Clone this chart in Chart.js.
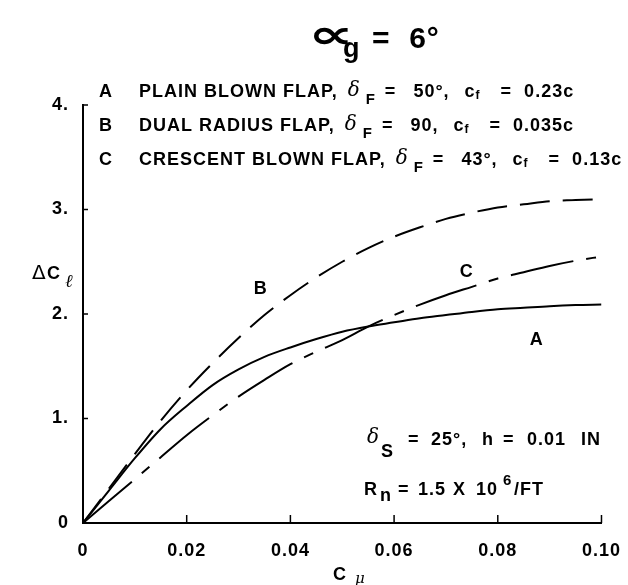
<!DOCTYPE html>
<html>
<head>
<meta charset="utf-8">
<script src="https://cdn.jsdelivr.net/npm/chart.js@4.4.0/dist/chart.umd.min.js"></script>
<style>
  html, body { margin: 0; padding: 0; background: #fff; }
  #wrap { width: 628px; height: 585px; position: relative; }
</style>
</head>
<body>
<div id="wrap"><canvas id="flapChart"></canvas></div>
<script>
const cMu = [0, 0.005, 0.01, 0.015, 0.02, 0.025, 0.03, 0.035, 0.04, 0.045, 0.05,
             0.055, 0.06, 0.065, 0.07, 0.075, 0.08, 0.085, 0.09, 0.095, 0.10];

// A - plain blown flap (solid)
const curveA = [0, 0.31, 0.62, 0.90, 1.12, 1.32, 1.47, 1.59, 1.68, 1.76, 1.83,
                1.88, 1.92, 1.96, 1.99, 2.02, 2.045, 2.06, 2.075, 2.085, 2.09];
// B - dual radius flap (long dash)
const curveB = [0, 0.33, 0.66, 0.98, 1.27, 1.53, 1.77, 1.99, 2.18, 2.35, 2.50,
                2.63, 2.74, 2.83, 2.91, 2.97, 3.02, 3.05, 3.08, 3.09, 3.10];
// C - crescent blown flap (dash-dot)
const curveC = [0, 0.21, 0.42, 0.63, 0.84, 1.03, 1.21, 1.37, 1.52, 1.64, 1.75,
                1.88, 1.99, 2.09, 2.18, 2.26, 2.34, 2.40, 2.46, 2.51, 2.55];

const xTickValues = [0, 0.02, 0.04, 0.06, 0.08, 0.10];
const yTickValues = [0, 1, 2, 3, 4];

// legend rows: key, flap name, flap angle, flap chord
const legendKeys = ['A', 'B', 'C'];
const flapNames = ['PLAIN BLOWN FLAP,', 'DUAL RADIUS FLAP,', 'CRESCENT BLOWN FLAP,'];
const flapAngles = ['50°,', '90,', '43°,'];
const flapChords = ['0.23c', '0.035c', '0.13c'];

// where the curve letters sit, in data units
const curveLabels = [
  { text: 'A', x: 0.0875, y: 1.75 },
  { text: 'B', x: 0.0343, y: 2.24 },
  { text: 'C', x: 0.0740, y: 2.40 }
];

const FAM = '"Liberation Sans", Arial, sans-serif';
const BOLD = 'bold 18px ' + FAM;
const SUB = 'bold 15px ' + FAM;
const GREEK = 'italic 20px "DejaVu Serif", serif';

function toPoints(ys) {
  return cMu.map((x, i) => ({ x: x, y: ys[i] }));
}

// draw a run of text pieces one after the other
function drawRun(ctx, x, y, parts) {
  parts.forEach(p => {
    ctx.font = p.font || BOLD;
    if (p.gap) x += p.gap;
    if (p.at) x = p.at;
    ctx.fillText(p.t, x, y + (p.dy || 0));
    x += ctx.measureText(p.t).width;
  });
}

const textPlugin = {
  id: 'textPlugin',
  beforeDraw(chart) {
    chart.ctx.letterSpacing = '1px';
  },
  afterDraw(chart) {
    const ctx = chart.ctx;
    const xs = chart.scales.x, ys = chart.scales.y;
    ctx.save();
    ctx.letterSpacing = '1px';
    ctx.fillStyle = '#000';
    ctx.strokeStyle = '#000';
    ctx.textBaseline = 'alphabetic';
    ctx.textAlign = 'left';

    // inward tick marks
    ctx.lineWidth = 1.5;
    xTickValues.slice(1).forEach(v => {
      const px = xs.getPixelForValue(v);
      ctx.beginPath();
      ctx.moveTo(px, ys.bottom);
      ctx.lineTo(px, ys.bottom - 8);
      ctx.stroke();
    });
    yTickValues.slice(1).forEach(v => {
      const py = ys.getPixelForValue(v);
      ctx.beginPath();
      ctx.moveTo(xs.left, py);
      ctx.lineTo(xs.left + 5, py);
      ctx.stroke();
    });

    // curve letters
    ctx.font = BOLD;
    ctx.textAlign = 'center';
    ctx.textBaseline = 'middle';
    curveLabels.forEach(l => {
      ctx.fillText(l.text, xs.getPixelForValue(l.x), ys.getPixelForValue(l.y));
    });
    ctx.textAlign = 'left';
    ctx.textBaseline = 'alphabetic';

    // title
    ctx.save();
    ctx.translate(308, 48);
    ctx.scale(1.6, 1);
    ctx.font = 'bold 40px "DejaVu Sans", sans-serif';
    ctx.fillText('\u221D', 0, 0);
    ctx.restore();
    ctx.font = 'bold 27px ' + FAM;
    ctx.fillText('g', 343, 57);
    ctx.font = 'bold 30px ' + FAM;
    ctx.fillText('=  6°', 372, 48);

    // legend rows
    legendKeys.forEach((k, i) => {
      const y = 97 + i * 34;
      ctx.font = BOLD;
      ctx.fillText(k, 99, y);
      drawRun(ctx, 139, y, [
        { t: flapNames[i] },
        { t: '\u03B4', font: GREEK, gap: 10, dy: -1 },
        { t: 'F', font: SUB, gap: 5, dy: 7 },
        { t: '=', gap: 9 },
        { t: flapAngles[i], gap: 17 },
        { t: 'c', gap: 15 },
        { t: 'f', font: 'bold 12px ' + FAM, dy: 2 },
        { t: '=', gap: 20 },
        { t: flapChords[i], gap: 12 }
      ]);
    });

    // test conditions
    drawRun(ctx, 367, 445, [
      { t: '\u03B4', font: GREEK, dy: -2 },
      { t: 'S', at: 381, dy: 12 },
      { t: '=', at: 408 },
      { t: '25°,', at: 431 },
      { t: 'h', at: 482 },
      { t: '=', at: 503 },
      { t: '0.01', at: 527 },
      { t: 'IN', at: 581 }
    ]);
    drawRun(ctx, 364, 495, [
      { t: 'R' },
      { t: 'n', at: 380, dy: 6 },
      { t: '=', at: 398 },
      { t: '1.5', at: 418 },
      { t: 'X', at: 453 },
      { t: '10', at: 476 },
      { t: '6', font: SUB, at: 503, dy: -10 },
      { t: '/FT', at: 514 }
    ]);

    // axis titles
    ctx.font = '20px "DejaVu Sans", sans-serif';
    ctx.fillText('\u0394', 32, 279);
    ctx.font = BOLD;
    ctx.fillText('C', 47, 279);
    ctx.font = 'italic 18px "DejaVu Serif", serif';
    ctx.fillText('\u2113', 65, 287);

    ctx.font = BOLD;
    ctx.fillText('C', 333, 580);
    ctx.font = 'italic 15px "DejaVu Serif", serif';
    ctx.fillText('\u03BC', 355, 583);
    ctx.restore();
  }
};

const lineStyle = {
  borderColor: '#000',
  borderWidth: 2,
  pointRadius: 0,
  fill: false,
  cubicInterpolationMode: 'monotone'
};

const tickFont = { family: FAM, size: 18, weight: 'bold' };

new Chart(document.getElementById('flapChart'), {
  type: 'line',
  data: {
    datasets: [
      Object.assign({ label: 'A', data: toPoints(curveA) }, lineStyle),
      Object.assign({ label: 'B', data: toPoints(curveB), borderDash: [30, 13] }, lineStyle),
      Object.assign({ label: 'C', data: toPoints(curveC), borderDash: [64, 13, 10, 13] }, lineStyle)
    ]
  },
  options: {
    responsive: true,
    maintainAspectRatio: false,
    animation: false,
    layout: { padding: { top: 105, right: 23, left: 0, bottom: 0 } },
    plugins: { legend: { display: false }, tooltip: { enabled: false } },
    scales: {
      x: {
        type: 'linear',
        min: 0,
        max: 0.1,
        afterFit: s => { s.height = 62; },
        afterBuildTicks: s => { s.ticks = xTickValues.map(v => ({ value: v })); },
        grid: { display: false },
        border: { display: true, color: '#000', width: 2 },
        ticks: {
          color: '#000',
          font: tickFont,
          padding: 9,
          maxRotation: 0,
          callback: v => v === 0 ? '0' : v.toFixed(2)
        }
      },
      y: {
        min: 0,
        max: 4,
        afterFit: s => { s.width = 83; },
        afterBuildTicks: s => { s.ticks = yTickValues.map(v => ({ value: v })); },
        grid: { display: false },
        border: { display: true, color: '#000', width: 2 },
        ticks: {
          color: '#000',
          font: tickFont,
          padding: 6,
          callback: v => v === 0 ? '0' : v + '.'
        }
      }
    }
  },
  plugins: [textPlugin]
});
</script>
</body>
</html>
